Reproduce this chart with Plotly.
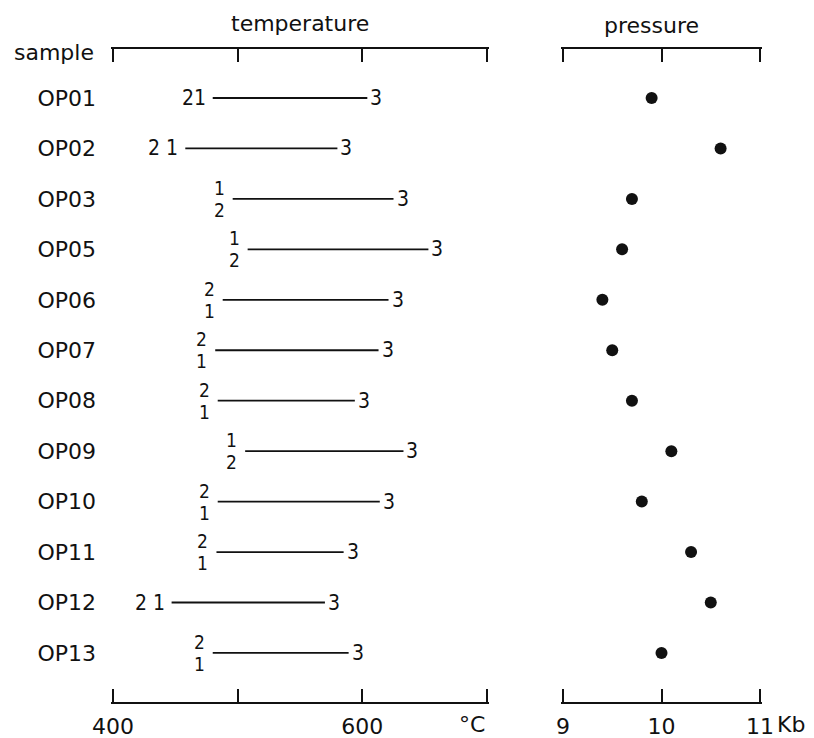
import plotly.graph_objects as go

samples = ["OP01", "OP02", "OP03", "OP05", "OP06", "OP07",
           "OP08", "OP09", "OP10", "OP11", "OP12", "OP13"]
t_low = [480, 458, 496, 508, 488, 482, 484, 506, 484, 483, 447, 480]
t_high = [604, 580, 625, 653, 621, 613, 594, 633, 614, 585, 570, 589]
# thermometer labels at the low end ("/" means stacked: upper/lower)
low_labels = ["21", "2 1", "1/2", "1/2", "2/1", "2/1",
              "2/1", "1/2", "2/1", "2/1", "2 1", "2/1"]
high_label = "3"
pressure = [9.9, 10.6, 9.7, 9.6, 9.4, 9.5, 9.7, 10.1, 9.8, 10.3, 10.5, 10.0]

temp_ticks = [400, 500, 600, 700]
temp_ticktext = ["400", "", "600", ""]
pres_ticks = [9, 10, 11]
pres_ticktext = ["9", "10", "11"]

WORD = "DejaVu Sans"
DIGIT = "DejaVu Sans Condensed, Liberation Sans Narrow, DejaVu Sans"
INK = "#111111"

rows = list(range(len(samples)))
fig = go.Figure()

for i, (a, b) in enumerate(zip(t_low, t_high)):
    fig.add_trace(go.Scatter(x=[a, b], y=[i, i], mode="lines",
                             line=dict(color=INK, width=1.8),
                             xaxis="x", yaxis="y", showlegend=False,
                             hoverinfo="skip"))

fig.add_trace(go.Scatter(x=pressure, y=rows, mode="markers",
                         marker=dict(size=12, color=INK),
                         xaxis="x2", yaxis="y", showlegend=False))

ann = []
for i, (a, b, lab) in enumerate(zip(t_low, t_high, low_labels)):
    ann.append(dict(x=b, y=i, xref="x", yref="y", text=high_label,
                    xanchor="left", yanchor="middle", xshift=1, showarrow=False,
                    font=dict(family=DIGIT, size=21, color=INK)))
    if "/" in lab:
        top, bot = lab.split("/")
        ann.append(dict(x=a, y=i, xref="x", yref="y", text=top,
                        xanchor="right", yanchor="middle", xshift=-6, yshift=11,
                        showarrow=False, font=dict(family=DIGIT, size=19, color=INK)))
        ann.append(dict(x=a, y=i, xref="x", yref="y", text=bot,
                        xanchor="right", yanchor="middle", xshift=-6, yshift=-11,
                        showarrow=False, font=dict(family=DIGIT, size=19, color=INK)))
    else:
        ann.append(dict(x=a, y=i, xref="x", yref="y", text=lab,
                        xanchor="right", yanchor="middle", xshift=-5,
                        showarrow=False, font=dict(family=DIGIT, size=21, color=INK)))

ann += [
    dict(x=550, y=1, xref="x", yref="paper", text="temperature", showarrow=False,
         xanchor="center", yanchor="middle", yshift=26,
         font=dict(family=WORD, size=22, color=INK)),
    dict(x=9.9, y=1, xref="x2", yref="paper", text="pressure", showarrow=False,
         xanchor="center", yanchor="middle", yshift=24,
         font=dict(family=WORD, size=22, color=INK)),
    dict(x=-0.152, y=1, xref="paper", yref="paper", text="sample", showarrow=False,
         xanchor="left", yanchor="middle", yshift=-3,
         font=dict(family=WORD, size=22, color=INK)),
    dict(x=700, y=0, xref="x", yref="paper", text="°C", showarrow=False,
         xanchor="right", yanchor="middle", yshift=-22,
         font=dict(family=WORD, size=22, color=INK)),
    dict(x=11, y=0, xref="x2", yref="paper", text="Kb", showarrow=False,
         xanchor="left", yanchor="middle", yshift=-22, xshift=15,
         font=dict(family=WORD, size=22, color=INK)),
]

axis_style = dict(showline=True, mirror="ticks", ticks="inside", ticklen=13,
                  tickwidth=2, linewidth=2, linecolor=INK, tickcolor=INK,
                  showgrid=False, zeroline=False, anchor="y", automargin=False,
                  ticklabelstandoff=4,
                  tickfont=dict(family=WORD, size=22, color=INK))

fig.update_layout(
    width=806, height=730,
    margin=dict(l=103, r=52, t=41, b=36),
    paper_bgcolor="white", plot_bgcolor="white",
    showlegend=False,
    xaxis=dict(domain=[0, 378 / 651], range=[398.4, 701.6],
               tickvals=temp_ticks, ticktext=temp_ticktext, **axis_style),
    xaxis2=dict(domain=[450 / 651, 1], range=[8.98, 11.02],
                tickvals=pres_ticks, ticktext=pres_ticktext, **axis_style),
    yaxis=dict(range=[11.972, -0.971], tickvals=rows, ticktext=samples,
               showgrid=False, zeroline=False, showline=False, ticks="",
               automargin=False, ticklabelstandoff=14,
               tickfont=dict(family=WORD, size=22, color=INK)),
    annotations=ann,
)

fig.write_html("out.html")
